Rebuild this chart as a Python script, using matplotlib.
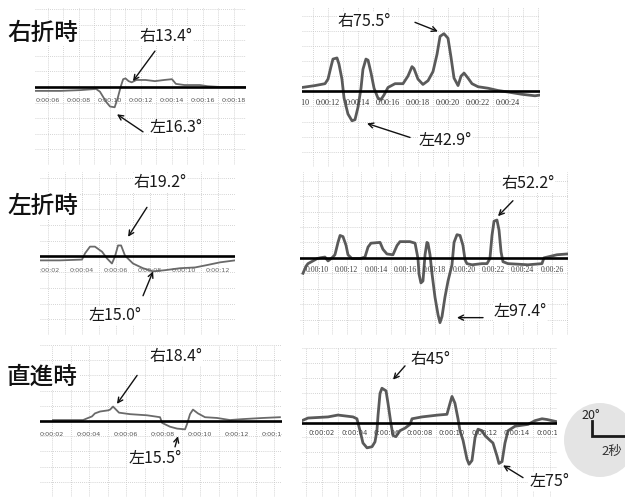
import matplotlib
matplotlib.use('Agg')
import matplotlib.pyplot as plt
import numpy as np
from matplotlib.patches import Ellipse

plt.rcParams['font.family'] = ['Noto Sans CJK JP', 'DejaVu Sans']

# ---- data: time (s) / steering angle (deg, + = right, - = left) ----
rt1_t = [5.2, 6.8, 8.1, 9.1, 9.35, 9.75, 10.0, 10.3, 10.5, 10.7, 10.85, 11.0, 11.2, 11.4,
         11.7, 12.3, 12.9, 13.5, 14.0, 14.25, 14.8, 15.8, 16.3, 17.1, 18.8]
rt1_deg = [-5, -5, -4, -2.5, -6, -19, -25, -26, -14, 1, 10, 11, 7.5, 6,
           9, 9, 7.5, 9, 10, 4, 2.5, 2.5, 1, 0, 0]
rt1_ticks = [6, 8, 10, 12, 14, 16, 18]

rt2_t = [10.27, 11.13, 11.8, 12.0, 12.2, 12.33, 12.6, 12.73, 12.93, 13.07, 13.33, 13.6, 13.8,
         14.0, 14.2, 14.33, 14.53, 14.67, 14.87, 15.07, 15.33, 15.53, 15.73, 16.0, 16.47,
         17.0, 17.33, 17.6, 17.73, 18.0, 18.33, 18.67, 19.0, 19.27, 19.47, 19.73, 20.0,
         20.2, 20.4, 20.67, 20.87, 21.07, 21.33, 21.6, 22.0, 22.67, 23.33, 24.0, 24.93,
         25.8, 26.13]
rt2_deg = [5, 7.5, 10, 16, 32.5, 42.5, 44, 36, 16, -9, -30, -39, -37.5,
           -21, 4, 29, 42.5, 41, 24, 4, -9, -11, -5, 5, 10,
           10, 20, 32.5, 30, 16, 9, 14, 26, 49, 72.5, 76, 70,
           45, 17.5, 7.5, 20, 24, 17.5, 10, 6, 4, 1, -1, -4,
           -6, -5]
rt2_ticks = [10, 12, 14, 16, 18, 20, 22, 24]

lt1_t = [1.53, 2.7, 4.0, 4.18, 4.47, 4.76, 5.18, 5.47, 5.76, 5.94, 6.12, 6.3, 6.53, 7.0,
         7.59, 8.18, 8.88, 9.76, 10.65, 11.35, 12.12, 13.0]
lt1_deg = [-5, -5, -4, 4, 12.5, 12.5, 6, -2.5, -9, 0, 14, 14, 1, -9,
           -15, -19, -17.5, -15, -14, -11, -7.5, -5]
lt1_ticks = [2, 4, 6, 8, 10, 12]

lt2_t = [9.01, 9.21, 9.35, 9.69, 9.97, 10.17, 10.51, 10.72, 10.99, 11.19, 11.4, 11.54, 11.74,
         11.95, 12.08, 12.35, 12.9, 13.24, 13.45, 13.65, 14.27, 14.47, 14.74, 15.15, 15.43,
         15.63, 16.31, 16.66, 16.86, 16.93, 17.06, 17.2, 17.34, 17.47, 17.54, 17.68, 17.82,
         18.02, 18.23, 18.36, 18.5, 18.7, 18.91, 19.18, 19.32, 19.52, 19.73, 19.93, 20.07,
         20.2, 20.55, 21.23, 21.57, 21.77, 21.91, 22.05, 22.25, 22.39, 22.53, 22.66, 23.0,
         24.37, 25.32, 25.46, 26.35, 27.03]
lt2_deg = [-20, -11, -7.5, -4, -1, 0, 1, -4, 0, 4, 20, 29, 27.5,
           16, 4, -1, -1, 1, 14, 19, 20, 11, 5, 4, 16,
           21, 21, 19, -1, -21, -32.5, -30, 4, 20, 19, 4, -21,
           -51, -74, -84, -76, -51, -30, -9, 20, 30, 29, 16, -2.5,
           -7.5, -9, -7.5, -7.5, -1, 29, 47.5, 49, 36, 7.5, -5, -7.5,
           -9, -7.5, 0, 4, 5]
lt2_ticks = [10, 12, 14, 16, 18, 20, 22, 24, 26, 28]

st1_t = [2.05, 2.6, 3.68, 3.95, 4.16, 4.32, 4.6, 5.03, 5.14, 5.3, 5.46, 5.62, 6.22, 7.14,
         7.84, 7.95, 8.38, 8.76, 9.19, 9.3, 9.46, 9.62, 9.89, 10.27, 10.92, 11.62, 12.32,
         13.4, 14.32]
st1_deg = [1.25, 1.25, 1.25, 4, 6, 10, 12.5, 14, 15, 19, 15, 11, 9, 7.5,
           5, -2.5, -7.5, -10, -11, -4, 9, 15, 10, 5, 4, 1.25, 2.5,
           4, 5]
st1_ticks = [2, 4, 6, 8, 10, 12, 14]

st2_t = [0.77, 1.14, 2.37, 2.98, 3.91, 4.15, 4.34, 4.52, 4.77, 5.08, 5.26, 5.38, 5.45, 5.57,
         5.69, 5.94, 6.06, 6.25, 6.37, 6.55, 6.8, 7.11, 7.42, 7.54, 8.15, 9.14, 9.69, 9.88,
         10.0, 10.18, 10.37, 10.49, 10.68, 10.92, 11.05, 11.23, 11.42, 11.6, 11.85, 12.03,
         12.34, 12.52, 12.77, 12.89, 13.08, 13.26, 13.45, 13.88, 14.68, 15.11, 15.54,
         15.85, 16.46]
st2_deg = [2.5, 6, 7.5, 10, 7.5, 5, -11, -27.5, -34, -32.5, -26, -11, 10, 39,
           46, 42.5, 26, -2.5, -17.5, -19, -11, -7.5, -2.5, 5, 7.5, 10, 11, 26,
           35, 26, 5, -11, -24, -49, -56, -51, -20, -9, -11, -17.5,
           -24, -27.5, -45, -55, -52.5, -27.5, -11, -5, -2.5, 2.5, 5,
           4, 1]
st2_ticks = [2, 4, 6, 8, 10, 12, 14, 16]

W, H = 625, 504
fig = plt.figure(figsize=(W / 100, H / 100), dpi=100)


def make_panel(box, x_ref, t_ref, pps, base_y, ppd=0.8):
    # box in pixels (left, top, right, bottom); x_ref px <-> t_ref s
    x0, y0, x1, y1 = box
    ax = fig.add_axes([x0 / W, 1 - y1 / H, (x1 - x0) / W, (y1 - y0) / H])
    ax.set_xlim(t_ref + (x0 - x_ref) / pps, t_ref + (x1 - x_ref) / pps)
    ax.set_ylim((base_y - y1) / ppd, (base_y - y0) / ppd)
    ax.set_xticks(np.arange(np.ceil(ax.get_xlim()[0]), ax.get_xlim()[1], 1))
    ax.set_yticks(np.arange(-100, 120, 20))
    ax.grid(True, color='#c6c6c6', lw=0.6, ls=(0, (1, 1.5)))
    ax.tick_params(length=0, labelbottom=False, labelleft=False)
    for s in ax.spines.values():
        s.set_visible(False)
    ax.axhline(0, color='black', lw=1.9, zorder=3)
    return ax


def draw(ax, t, deg, ticks, label_deg, lw, color, tfs, tfam, tcol):
    ax.plot(t, deg, color=color, lw=lw, zorder=2, solid_joinstyle='round')
    for s in ticks:
        ax.text(s, label_deg, '0:00:%02d' % s, ha='center', va='center', fontsize=tfs,
                family=tfam, color=tcol, clip_on=True, zorder=4)


def note(ax, text, pos, tail, tip, fs=11.5):
    ax.annotate('', xy=tip, xytext=tail, annotation_clip=False, zorder=5,
                arrowprops=dict(arrowstyle='->', lw=1.0, color='#111111',
                                mutation_scale=9, shrinkA=0, shrinkB=0))
    ax.text(pos[0], pos[1], text, ha='center', va='center', fontsize=fs, color='#1a1a1a',
            clip_on=False, zorder=6, bbox=dict(fc='white', ec='none', pad=0.6))


sans = ['DejaVu Sans']
serif = ['Liberation Serif']

# 右折時
ax1 = make_panel((35, 8, 246, 165), 48, 6, 15.5, 89)
draw(ax1, rt1_t, rt1_deg, rt1_ticks, -17.5, 1.3, '#6a6a6a', 4.6, sans, '#555555')
note(ax1, '右13.4°', (13.6, 65), (12.9, 46), (11.48, 7.5))
note(ax1, '左16.3°', (14.26, -52.5), (12.13, -57.5), (10.45, -35))

ax2 = make_panel((302, 7, 540, 167), 298, 10, 15, 96)
draw(ax2, rt2_t, rt2_deg, rt2_ticks, -16, 2.0, '#5a5a5a', 5.8, serif, '#333333')
note(ax2, '右75.5°', (14.4, 92.5), (17.8, 91), (19.33, 79))
note(ax2, '左42.9°', (19.8, -65), (17.47, -61), (14.6, -42.5))

# 左折時
ax3 = make_panel((40, 172, 235, 335), 48, 2, 17, 258)
draw(ax3, lt1_t, lt1_deg, lt1_ticks, -17.5, 1.3, '#6a6a6a', 4.6, sans, '#666666')
note(ax3, '右19.2°', (8.59, 94), (7.82, 62.5), (6.71, 25))
note(ax3, '左15.0°', (5.94, -75), (7.59, -50), (8.18, -19))

ax4 = make_panel((300, 172, 568, 335), 317.5, 10, 14.65, 261)
draw(ax4, lt2_t, lt2_deg, lt2_ticks, -16, 2.0, '#5a5a5a', 5.6, serif, '#444444')
note(ax4, '右52.2°', (24.37, 96), (23.34, 74), (22.32, 54))
note(ax4, '左97.4°', (23.82, -70), (21.3, -77.5), (19.52, -77.5))

# 直進時
ax5 = make_panel((40, 345, 282, 497), 52, 2, 18.5, 425)
draw(ax5, st1_t, st1_deg, st1_ticks, -17.5, 1.3, '#6a6a6a', 4.6, sans, '#555555')
note(ax5, '右18.4°', (8.7, 85), (6.6, 60), (5.51, 22.5))
note(ax5, '左15.5°', (7.57, -50), (8.65, -34), (8.81, -20))

ax6 = make_panel((302, 348, 557, 497), 322, 2, 16.25, 426)
draw(ax6, st2_t, st2_deg, st2_ticks, -14, 2.0, '#5a5a5a', 4.9, sans, '#444444')
note(ax6, '右45°', (8.65, 85), (7.11, 76), (6.37, 57.5))
note(ax6, '左75°', (15.97, -79), (14.37, -74), (13.14, -57.5))

# scale bar: 20 deg / 2 s
fig.add_artist(Ellipse((600 / W, 1 - 440 / H), 72 / W, 74 / H, transform=fig.transFigure,
                       fc='#e4e4e4', ec='none', zorder=-1))
ax6.plot([18.6, 18.6, 20.6], [2.5, -17.5, -17.5], color='#1a1a1a', lw=2.0, clip_on=False,
         solid_joinstyle='miter', zorder=5)
ax6.text(18.55, 10, '20°', ha='center', va='center', fontsize=9, color='#222222', clip_on=False)
ax6.text(19.85, -39, '2秒', ha='center', va='center', fontsize=9.5, color='#333333', clip_on=False)

# row titles
for label, yc in [('右折時', 33), ('左折時', 206), ('直進時', 377)]:
    fig.text(7 / W, 1 - yc / H, label, ha='left', va='center', fontsize=17, color='#111111',
             weight='medium', bbox=dict(fc='white', ec='none', pad=1))

fig.savefig('out.png', dpi=100, facecolor='white')
